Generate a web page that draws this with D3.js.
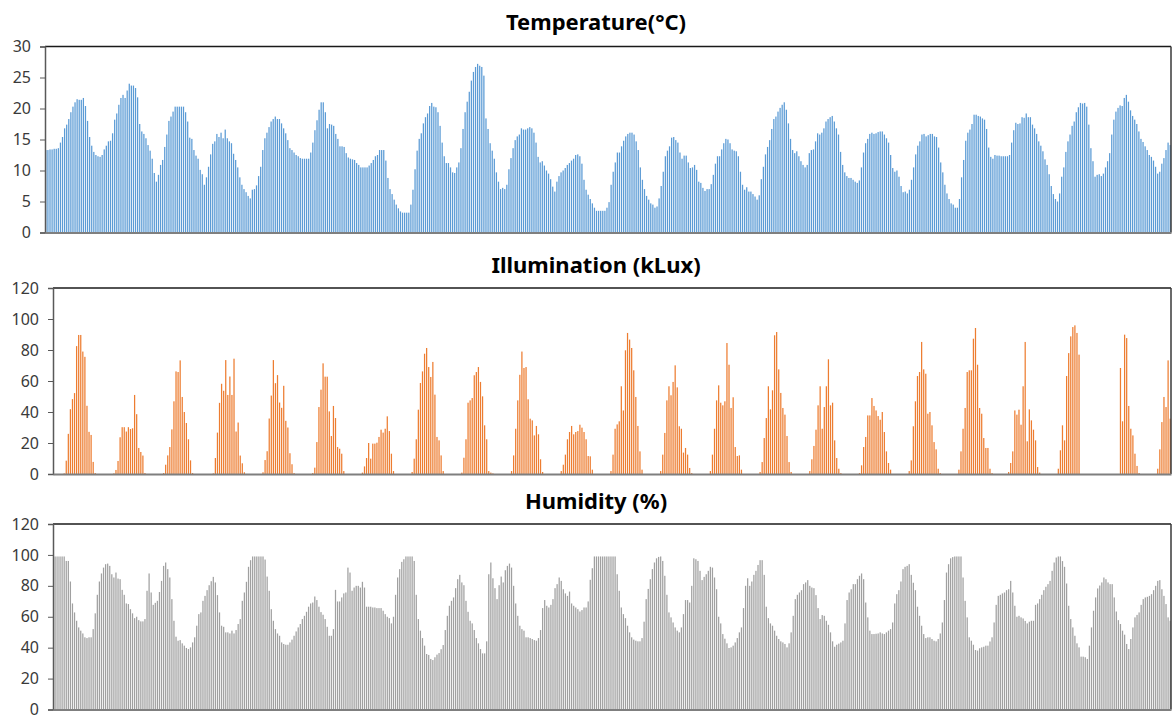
<!DOCTYPE html>
<html>
<head>
<meta charset="utf-8">
<script src="https://cdn.jsdelivr.net/npm/d3@7"></script>
<style>
  body { margin: 0; background: #fff; }
  svg { display: block; }
  .tick text { font-family: "Noto Sans", sans-serif; font-size: 16px; fill: #3a3a3a; }
  .title { font-family: "Noto Sans", sans-serif; font-weight: bold; font-size: 22px; fill: #000; }
</style>
</head>
<body>
<svg id="chart" width="1172" height="715"></svg>
<script>
// hourly readings, 540 hours
const temperature = [
  13.3,13.3,13.4,13.4,13.5,13.5,13.6,14.5,15.4,16.8, 17.4,18.3,19.4,20.3,21.0,21.5,21.4,21.4,21.7,20.4,
  18.0,15.4,14.0,13.0,12.5,12.3,12.2,12.5,13.4,14.0, 14.7,14.8,16.0,18.2,19.2,20.6,21.7,22.2,21.7,22.9,
  24.0,23.7,23.7,23.3,21.8,17.5,16.3,15.9,15.2,14.1, 13.2,11.9,9.6,8.2,9.3,10.9,11.7,13.8,15.8,18.0,
  18.7,19.5,20.3,20.3,20.3,20.3,20.3,19.4,17.9,15.3, 15.1,13.3,12.4,11.9,10.1,9.4,7.7,8.9,10.6,12.6,
  14.3,14.7,15.9,15.4,16.1,15.2,16.6,15.2,14.7,14.4, 12.7,11.7,10.5,8.9,7.7,7.0,6.5,5.9,5.5,6.9,
  7.0,7.6,9.1,10.6,13.3,15.2,16.1,17.0,17.9,18.3, 18.7,18.3,18.3,17.6,16.8,16.0,14.9,13.6,13.3,12.9,
  12.5,12.3,12.0,11.9,11.9,11.9,11.9,12.9,14.5,16.5, 18.1,19.8,21.0,21.0,19.4,16.8,17.5,17.4,17.2,15.9,
  15.1,13.9,13.9,13.8,12.8,12.1,11.9,11.8,11.7,11.2, 10.9,10.5,10.5,10.5,10.5,10.8,11.2,11.7,12.3,12.5,
  13.3,13.3,13.3,11.6,8.8,7.0,6.2,5.3,4.5,3.9, 3.4,3.2,3.2,3.2,3.2,4.5,6.9,10.2,13.2,15.1,
  16.0,17.6,18.6,19.2,20.4,20.9,20.3,20.2,19.4,17.2, 14.5,12.3,11.2,11.2,10.5,9.7,9.6,10.5,11.3,13.6,
  16.7,19.4,21.1,22.7,24.5,25.9,26.7,27.2,26.9,26.7, 25.3,18.4,16.7,14.4,13.2,11.9,9.7,8.2,7.0,7.2,
  7.0,7.7,10.2,12.0,13.6,14.9,15.5,15.8,16.8,16.6, 16.6,16.8,17.0,16.8,16.1,14.5,12.2,11.3,11.5,10.8,
  10.0,9.5,8.6,7.4,6.6,8.2,9.1,9.7,10.0,10.4, 10.9,11.2,11.6,11.9,12.5,12.6,12.3,11.1,8.5,6.9,
  6.1,5.4,4.7,4.0,3.5,3.5,3.5,3.5,3.5,4.0, 4.9,7.7,9.8,11.3,12.9,12.9,13.9,14.8,15.5,15.9,
  16.1,16.1,15.8,14.7,13.3,10.5,8.5,7.0,5.9,5.3, 4.7,4.5,4.0,4.2,5.5,7.5,9.8,12.3,13.2,13.9,
  15.3,15.4,14.9,14.5,12.9,11.9,12.4,12.4,11.3,10.4, 10.5,10.9,10.1,8.2,8.0,7.2,6.7,7.0,7.0,7.8,
  9.3,11.1,12.3,12.3,13.4,14.4,15.1,15.0,14.4,13.4, 13.2,13.1,12.3,9.8,7.7,6.9,7.3,6.6,6.6,6.2,
  5.8,5.3,6.0,8.6,10.6,12.6,13.8,14.9,16.7,18.3, 18.7,19.5,20.1,20.6,21.0,19.8,17.6,15.1,13.3,12.8,
  13.1,12.3,11.5,10.9,10.5,10.9,12.8,13.3,13.4,14.7, 16.0,15.8,16.1,16.8,17.9,18.3,18.6,18.8,17.9,16.8,
  15.8,13.0,10.9,9.7,9.1,8.8,8.8,8.5,8.2,8.0, 8.4,10.5,12.9,14.4,15.1,15.9,16.1,15.9,16.0,16.2,
  16.3,16.3,15.8,15.2,14.5,12.5,10.4,9.8,10.0,9.0, 7.5,6.5,6.6,6.3,6.9,8.5,10.5,12.6,14.0,14.7,
  15.8,15.9,15.5,15.7,15.9,15.9,15.5,15.4,13.7,11.3, 9.7,7.7,6.3,5.4,4.7,4.5,4.0,4.0,5.4,8.9,
  11.7,14.8,16.1,16.6,17.5,19.0,19.0,18.8,18.7,18.4, 18.2,16.7,13.7,12.2,11.9,12.5,12.4,12.4,12.3,12.3,
  12.3,12.3,12.5,14.5,16.5,17.7,17.5,17.6,18.6,18.5, 19.2,18.6,18.6,17.4,16.8,15.9,14.7,14.0,13.1,11.8,
  10.9,9.4,7.5,6.2,5.4,5.0,6.3,9.0,10.5,13.0, 14.7,15.8,17.2,17.9,19.4,20.2,20.9,20.8,20.9,20.3,
  17.4,13.6,11.5,9.0,9.3,9.4,9.1,9.5,10.5,11.5, 12.8,15.8,18.2,19.5,20.1,20.5,20.4,21.7,22.2,21.1,
  19.7,18.8,18.2,17.5,16.3,15.1,14.6,13.9,13.3,12.5, 12.2,11.6,10.6,9.5,9.8,11.1,12.0,13.3,14.5,14.1
];

// one row per day, 24 hours each
const illumination = [
  0,0,0,0,0,0.4,8.6,25.9,41.8,48.3,52.2,82.5,89.7,89.7,79,75.6,44,27.2,25.2,7.8,0.6,0,0,0,
  0,0,0,0,0,0.4,2.6,8.4,23.7,30.2,30.2,27.4,30.2,29,29.5,51,38.6,16.8,14.2,11.9,0.6,0,0,0,
  0,0,0,0,0,0.6,6,12,17.4,28.8,46.9,66.2,65.8,73.3,49.7,40,32.9,22.4,8.8,0.6,0,0,0,0,
  0,0,0,0,0,0.4,10.3,26.7,45.9,58.2,53.7,73.5,51,62.9,51,74.4,27.4,33.2,11.9,6.9,1.1,0,0,0,
  0,0,0,0,0,1.1,9,14.7,35.8,50.6,73.5,58.6,63.8,46.1,42.7,56.9,34.3,30,13.4,6.3,0.6,0,0,0,
  0,0,0,0,0,0.6,4.1,20.6,43.2,54.4,71.4,62.8,62.8,40.4,24.5,43.9,36.1,17.4,16.3,13.1,1.9,0,0,0,
  0,0,0,0,0,0.9,4.9,10.3,20,9.9,19.6,19.6,20.2,23.9,28.6,26.7,29.2,37.2,27.7,13.1,1.9,0,0,0,
  0,0,0,0,0,1.3,9.9,22.4,41.5,58.7,66.2,77.6,81.3,69,62.6,72.3,51.2,23.9,21.7,12,1.9,0,0,0,
  0,0,0,0,0,0.9,10.5,22.4,46,47.5,49,63.7,65.8,69,59.4,50.1,31.4,22.4,1.9,0.9,0.4,0,0,0,
  0,0,0,0,0,1.9,12,29.2,47.5,64,79,68.4,69,48.2,35.7,34.6,24.9,31,25.6,9.5,1.3,0,0,0,
  0,0,0,0,0,1.9,6,12.5,22.4,27.1,31,25.6,27.1,27.7,31.8,29.9,27.1,22.4,11.6,11.4,2.8,0,0,0,
  0,0,0,0,0,1.9,12.5,29.2,32,34,56.6,41,79.8,91,86.7,81.3,66.9,49.7,31,14.6,2.8,0,0,0,
  0,0,0,0,0,1.9,12.5,26.5,47.5,56.6,50.8,59.4,70.1,55.9,30.8,29.2,13.8,16.8,12.5,3.9,0.6,0,0,0,
  0,0,0,0,0,1.9,12.5,29.2,47.5,57.2,46,44.3,46.9,84.5,70.5,42.6,49.5,17.4,11.6,12,2.8,0,0,0,
  0,0,0,0,0,1.3,7.7,23.2,36.1,56.6,41.7,54,89.5,91.6,67.5,52.3,42.6,38.3,24.5,7.7,1.3,0,0,0,
  0,0,0,0,0,1.9,9.5,18.1,28.6,44.3,56.6,29.2,43.2,56.6,74,44.3,46,21.7,10.3,3.4,0.6,0,0,0,
  0,0,0,0,0,0.6,5.6,17.4,23.9,37.8,37.8,49,43.9,41,37.4,35,40,27.1,14.6,7.1,2.8,0,0,0,
  0,0,0,0,0,1.9,8.8,30.8,46.9,63.2,65.8,85.2,67.5,64.7,38.9,40,31.4,20.6,15.9,3.4,0.6,0,0,0,
  0,0,0,0,0,2.8,14.6,29.2,42.6,65.8,66.9,66.9,87.3,94.2,70.5,42.6,38.9,23.2,16.8,16.8,3.4,0.6,0,0,
  0,0,0,0,0,1.3,7.1,14.6,41,38.3,41.5,31.8,56.6,85.2,21.1,41.7,34.6,28.6,21.7,4.5,0.9,0,0,0,
  0,0,0,0,0,3.4,15.3,31.4,21.7,63.2,78,88.8,94.8,95.9,91,77,0,0,0,0,0,0,0,0,
  0,0,0,0,0,0,0,0,0,0,0,68.4,34,89.9,87.7,43.9,29.2,24.9,13.1,5.2,0.6,0,0,0,
  0,0,0,0,0,3.4,15.9,33.5,49.7,43.2,73.3,35.7
];

const humidity = [
  99,99,99,99,99,99,96.1,96.1,82.8,68.6, 62.8,57.4,53.1,51,49.2,46.7,46.2,46.7,46.7,52,
  62.2,74.2,82.8,88,91.8,94,94.4,92.9,87.5,85.4, 88.6,84.7,84.3,77.4,74.2,68.6,68.2,64.9,62.2,59.1,
  60,57.8,57,57,58.5,76.8,88,75.7,67.7,69, 70.3,76,83.2,92.9,95.1,90.8,85.4,71.4,57.4,47.1,
  44.5,44.9,42.8,41.3,39.8,39.1,40.2,43.4,46.7,54.2, 61.7,62.8,70.3,73.5,77.2,80.4,83,85.8,82.2,74,
  62.8,54.2,53.5,49.9,49.9,49.2,51,49.2,51.4,55.3, 58.5,70.3,75.7,82.6,92.3,96.6,99,99,99,99,
  99,99,97,86,76.8,64.9,57.4,52,49.2,47.7, 43.4,42.4,41.9,41.9,43.4,45.2,47.7,50.5,53.1,55.3,
  58.5,60.6,63.2,66.5,68.6,69.2,73.1,70.8,66.5,63, 61.3,58.5,53.5,47.7,47.7,52,77.4,69.9,69.9,72.5,
  75.1,75.7,91.8,88.6,76.8,78.9,80,80,78.9,82.6, 78.9,66.5,66.5,66.5,66,66,65.6,65.6,65.6,63.9,
  61.7,60,59.1,55.7,60,74.2,85.4,90.8,95.5,97.2, 99,99,99,99,96.1,74.2,58.5,51,46.2,41.3,
  35.9,35.3,32.7,32,33.8,35.5,36.5,39,41.7,51.4, 60.6,67.1,70.3,72.5,78.5,84.3,87.1,82.2,80.4,70.3,
  63.2,57.4,55.7,51.4,46.2,42.8,39.1,36.3,36.3,44.1, 87.5,95.1,84.9,78.5,71.4,80.4,86,82.2,90.1,92.9,
  94.4,91.8,80,68.6,60.6,54.2,52,51,46.7,46.7, 46.2,45.6,44.9,44.5,46.2,51.4,65.6,70.8,67.1,66,
  67.7,71.4,78.5,81.1,85.4,83.2,77.8,75.1,73.5,76.3, 68.6,67.1,66,64.9,63.4,64.3,66,66,69.9,83.9,
  91.4,99,99,99,99,99,99,99,99,99, 99,99,87.5,76.8,66,61.7,59.1,54.2,49.9,46.7,
  45.2,44.5,44.1,44.1,46.2,56.8,71.4,78,84.3,90.8, 95.1,97.8,98.7,99,96.1,86.5,74.2,62.8,59.6,56.3,
  53.1,51,49.9,53.1,61.7,70.8,70.8,69.2,80,97.8, 97.2,96.1,89.7,83.7,85.8,87.5,89.7,92.3,91.8,85.4,
  77.8,60,55.7,48.8,45.8,42.8,39.8,40.2,41.3,43.4, 46.2,49.9,53.1,65.6,80,84.9,80,82.8,87.1,89.7,
  93.5,96.6,96.6,87.1,66.5,59.1,55.7,54.2,51,47.7, 45.6,44.1,43.4,42.4,40.2,42.8,49.9,60.6,71.4,74.2,
  75.7,77.2,81.1,82.2,83.7,80,78.9,78.5,74,65.6, 58.5,61.1,60.6,57.4,54.8,49.9,44.1,40.6,41.9,42.6,
  43.4,44.5,55.7,70.8,75.7,77.8,81.1,81.1,84.3,86.5, 88,84.3,69.2,59.6,51,48.8,48.8,49,49.2,49.9,
  49.2,48.8,49.9,51,52,56.3,68.6,74.6,77.2,82.8, 90.8,92.3,92.9,94,87.1,82,77.2,66.5,60.6,54.2,
  48.8,46.2,46.7,46.7,45.6,44.5,44.1,45.6,49.2,56.3, 70.8,88.6,94,97.8,98.6,99,99,99,99,85.4,
  70.3,59.6,46.7,44.5,41.9,38.5,38.1,39.6,40.2,40.6, 41.3,41.3,44,46.7,56.3,67.7,73.5,74.2,75.1,75.7,
  77.2,77.8,83.2,75.7,67.1,60,60.6,59.6,58.9,57.3, 55.7,56.8,57.4,57.4,67.7,68.6,71.4,74.2,77.2,79.4,
  81.1,83.2,89.7,95.1,98.3,99,99,96,92.3,81.5, 67.1,58.5,53.1,47.7,42.8,40.2,34.2,34.2,33.8,32.7,
  41.3,53.1,63.9,72.5,78.3,80.2,82.2,85.4,84.3,82.2, 81.1,81.1,72.5,63.4,57.8,55.3,51,48.4,42.4,39.1,
  45.6,53.1,59.6,61.2,62.8,67.7,71.4,72.5,72.9,73.5, 74.6,77.2,80,83.2,83.7,77.8,73.5,68.2,59.6,57.4
];

const hours = d3.range(temperature.length);

const tempTicks = [0, 5, 10, 15, 20, 25, 30];
const illumTicks = [0, 20, 40, 60, 80, 100, 120];
const humTicks = [0, 20, 40, 60, 80, 100, 120];

const panels = [
  { title: 'Temperature(°C)', values: temperature, ticks: tempTicks, color: '#5B9BD5',
    left: 45, top: 46.5, bottom: 232.5, titleY: 30 },
  { title: 'Illumination (kLux)', values: illumination, ticks: illumTicks, color: '#ED7D31',
    left: 53, top: 288, bottom: 474, titleY: 273 },
  { title: 'Humidity (%)', values: humidity, ticks: humTicks, color: '#A0A0A0',
    left: 53, top: 524, bottom: 709.5, titleY: 509 }
];

const svg = d3.select('#chart');
const right = 1171;

panels.forEach(p => {
  const x = d3.scaleBand()
    .domain(hours)
    .range([p.left, right])
    .paddingInner(0.4)
    .paddingOuter(0.1);

  const y = d3.scaleLinear()
    .domain([0, d3.max(p.ticks)])
    .range([p.bottom, p.top]);

  const g = svg.append('g');

  g.append('text')
    .attr('class', 'title')
    .attr('x', 596)
    .attr('y', p.titleY)
    .attr('text-anchor', 'middle')
    .text(p.title);

  g.selectAll('rect.bar')
    .data(p.values)
    .enter()
    .append('rect')
    .attr('class', 'bar')
    .attr('x', (d, i) => x(hours[i]))
    .attr('width', x.bandwidth())
    .attr('y', d => y(d))
    .attr('height', d => y(0) - y(d))
    .attr('fill', p.color);

  // frame: top and right
  g.append('line')
    .attr('x1', p.left).attr('x2', right)
    .attr('y1', p.top).attr('y2', p.top)
    .attr('stroke', '#1a1a1a').attr('stroke-width', 1.3);
  g.append('line')
    .attr('x1', right).attr('x2', right)
    .attr('y1', p.top).attr('y2', p.bottom)
    .attr('stroke', '#3a3a3a').attr('stroke-width', 1.5);

  const yAxis = d3.axisLeft(y)
    .tickValues(p.ticks)
    .tickSize(5)
    .tickPadding(9);

  g.append('g')
    .attr('transform', `translate(${p.left},0)`)
    .call(yAxis)
    .call(a => a.select('.domain').attr('stroke', '#595959').attr('stroke-width', 1.5))
    .call(a => a.selectAll('.tick line').attr('stroke', '#595959'));

  const xAxis = d3.axisBottom(x).tickValues([]).tickSizeOuter(0);

  g.append('g')
    .attr('transform', `translate(0,${p.bottom})`)
    .call(xAxis)
    .call(a => a.select('.domain').attr('stroke', '#7f7f7f').attr('stroke-width', 2));
});
</script>
</body>
</html>
